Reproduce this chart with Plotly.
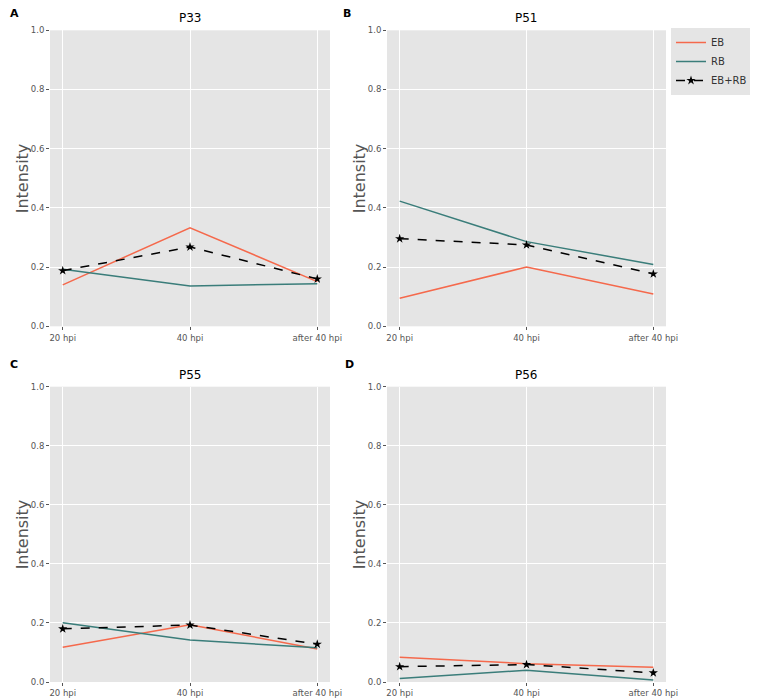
import plotly.graph_objects as go

# the page is shown with an 8px body margin, so the figure starts 8px in
OFF = 8
W, H = 758, 698 - OFF
categories = ["20 hpi", "40 hpi", "after 40 hpi"]
panel_titles = ["P33", "P51", "P55", "P56"]
panel_letters = ["A", "B", "C", "D"]

eb_p33 = [0.140, 0.333, 0.151]
rb_p33 = [0.193, 0.136, 0.144]
ebrb_p33 = [0.188, 0.268, 0.160]

eb_p51 = [0.095, 0.200, 0.109]
rb_p51 = [0.423, 0.286, 0.209]
ebrb_p51 = [0.296, 0.275, 0.177]

eb_p55 = [0.118, 0.194, 0.112]
rb_p55 = [0.201, 0.142, 0.116]
ebrb_p55 = [0.180, 0.193, 0.128]

eb_p56 = [0.084, 0.062, 0.050]
rb_p56 = [0.012, 0.040, 0.007]
ebrb_p56 = [0.052, 0.059, 0.031]

panels = [
    (eb_p33, rb_p33, ebrb_p33),
    (eb_p51, rb_p51, ebrb_p51),
    (eb_p55, rb_p55, ebrb_p55),
    (eb_p56, rb_p56, ebrb_p56),
]

EB_COLOR = "#F5694C"
RB_COLOR = "#3A7D7A"

# target pixel boxes in the window (left, right, top, bottom)
boxes = [
    (50, 330, 30.3, 326.3),
    (387, 666, 30.3, 326.3),
    (50, 330, 386.7, 682),
    (387, 666, 386.7, 682),
]
letter_pos = [(8, 14), (341, 14), (8, 364), (343, 364)]


def px(x):
    return (x - OFF) / W


def py(y):
    return 1 - (y - OFF) / H


fig = go.Figure()
layout = dict()
annotations = []
for i, ((eb, rb, ebrb), box) in enumerate(zip(panels, boxes)):
    n = "" if i == 0 else str(i + 1)
    xa, ya = "x" + n, "y" + n
    show = i == 1
    fig.add_trace(go.Scatter(x=categories, y=eb, mode="lines", name="EB",
                             line=dict(color=EB_COLOR, width=1.5),
                             xaxis=xa, yaxis=ya, showlegend=show, legendgroup="EB"))
    fig.add_trace(go.Scatter(x=categories, y=rb, mode="lines", name="RB",
                             line=dict(color=RB_COLOR, width=1.5),
                             xaxis=xa, yaxis=ya, showlegend=show, legendgroup="RB"))
    fig.add_trace(go.Scatter(x=categories, y=ebrb, mode="lines+markers", name="EB+RB",
                             line=dict(color="black", width=1.5, dash="dash"),
                             marker=dict(symbol="star", size=7, color="black"),
                             xaxis=xa, yaxis=ya, showlegend=show, legendgroup="EBRB"))
    l, r, t, b = box
    common = dict(showgrid=True, gridcolor="white", gridwidth=1, zeroline=False,
                  ticks="outside", ticklen=3, tickcolor="#555555", tickwidth=0.8,
                  tickfont=dict(family="DejaVu Sans", size=8.5, color="#555555"),
                  showline=False, automargin=False)
    layout["xaxis" + n] = dict(common, domain=[px(l), px(r)], anchor=ya,
                               type="category", range=[-0.1, 2.1])
    layout["yaxis" + n] = dict(common, domain=[py(b), py(t)], anchor=xa,
                               range=[0, 1], tickvals=[0, 0.2, 0.4, 0.6, 0.8, 1.0],
                               ticktext=["0.0", "0.2", "0.4", "0.6", "0.8", "1.0"])
    cx = (l + r) / 2
    annotations.append(dict(text=panel_titles[i], x=px(cx), y=py(t - 3),
                            xref="paper", yref="paper", xanchor="center", yanchor="bottom",
                            showarrow=False,
                            font=dict(family="DejaVu Sans", size=12, color="black")))
    annotations.append(dict(text="Intensity", x=px(22 + (l - 50)), y=py((t + b) / 2),
                            xref="paper", yref="paper", xanchor="center", yanchor="middle",
                            textangle=-90, showarrow=False,
                            font=dict(family="DejaVu Sans", size=16, color="#555555")))
    lx, ly = letter_pos[i]
    annotations.append(dict(text="<b>" + panel_letters[i] + "</b>",
                            x=px(lx), y=py(ly),
                            xref="paper", yref="paper", xanchor="left", yanchor="middle",
                            showarrow=False,
                            font=dict(family="DejaVu Sans", size=11, color="black")))

fig.update_layout(
    **layout,
    width=W, height=H,
    margin=dict(l=0, r=0, t=0, b=0),
    paper_bgcolor="white",
    plot_bgcolor="#E5E5E5",
    annotations=annotations,
    showlegend=True,
    legend=dict(x=px(671), y=py(28), xanchor="left", yanchor="top",
                bgcolor="#E5E5E5", bordercolor="#CCCCCC", borderwidth=0,
                font=dict(family="DejaVu Sans", size=10, color="#333333"),
                tracegroupgap=0, itemwidth=30),
)

fig.write_html("out.html")
